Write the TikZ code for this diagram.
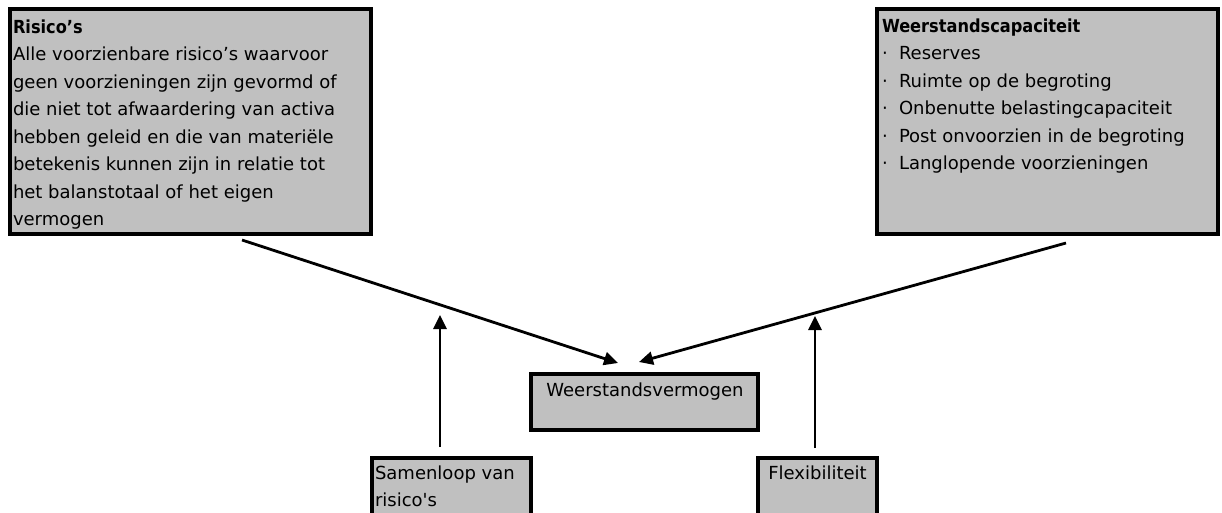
\documentclass[tikz,border=0pt]{standalone}
\usepackage{fontspec}
\setmainfont{DejaVu Sans}
\newfontfamily\titlefont{DejaVu Sans Condensed}
\usetikzlibrary{arrows.meta,calc}
\definecolor{boxgray}{HTML}{C0C0C0}
\newcommand\mybullet{\makebox[17pt][l]{·}}
\newcommand\straightquote{\XeTeXglyph\numexpr\XeTeXglyphindex"quotesingle"\relax}
\begin{document}
\begin{tikzpicture}[x=1pt,y=-1pt,
  box/.style={draw=black, fill=boxgray, line width=4pt, inner sep=0pt, outer sep=0pt},
  txt/.style={anchor=base west, inner sep=0pt, outer sep=0pt, font=\fontsize{18pt}{27.5pt}\selectfont},
  ttl/.style={font=\titlefont\bfseries},
  arr/.style={line width=2.8pt, -{Triangle[length=14pt,width=13pt]}}]
\useasboundingbox (0,0) rectangle (1222,512);
\clip (0,0) rectangle (1222,512);
% boxes
\node[box, minimum width=361pt, minimum height=225pt] (L) at (190.5,121.5) {};
\node[box, minimum width=341pt, minimum height=225pt] (R) at (1047.5,121.5) {};
\node[box, minimum width=227pt, minimum height=56pt] (C) at (644.5,402) {};
\node[box, minimum width=159pt, minimum height=84pt] (S) at (451.5,500) {};
\node[box, minimum width=119pt, minimum height=84pt] (F) at (817.5,500) {};
% texts
\node[txt] (Lt) at (13,33) {\parbox[t]{352pt}{\raggedright
  {\titlefont\bfseries Risico’s}\\
  Alle voorzienbare risico’s waarvoor\\
  geen voorzieningen zijn gevormd of\\
  die niet tot afwaardering van activa\\
  hebben geleid en die van materiële\\
  betekenis kunnen zijn in relatie tot\\
  het balanstotaal of het eigen\\
  vermogen}};
\node[txt] (Rt) at (882,32) {\parbox[t]{332pt}{\raggedright
  {\titlefont\bfseries Weerstandscapaciteit}\\
  \mybullet Reserves\\
  \mybullet Ruimte op de begroting\\
  \mybullet Onbenutte belastingcapaciteit\\
  \mybullet Post onvoorzien in de begroting\\
  \mybullet Langlopende voorzieningen}};
\node[txt, anchor=base] (Ct) at (645,396) {Weerstandsvermogen};
\node[txt] (St) at (375,479) {\parbox[t]{152pt}{\raggedright Samenloop van\\ risico\straightquote s}};
\node[txt, anchor=base] (Ft) at (817.5,479) {Flexibiliteit};
% connectors
\coordinate (tipS) at ($(S.north west)+(68,-143)$);
\coordinate (tipF) at ($(F.north west)+(57,-142)$);
\draw[arr] ($(L.south west)+(232,6)$) -- ($(C.north west)+(87,-11)$);
\draw[arr] ($(R.south west)+(189,9)$) -- ($(C.north west)+(108,-12)$);
\draw[arr] ($(S.north west)+(68,-11)$) -- (tipS);
\draw[arr] ($(F.north west)+(57,-10)$) -- (tipF);
\end{tikzpicture}
\end{document}
